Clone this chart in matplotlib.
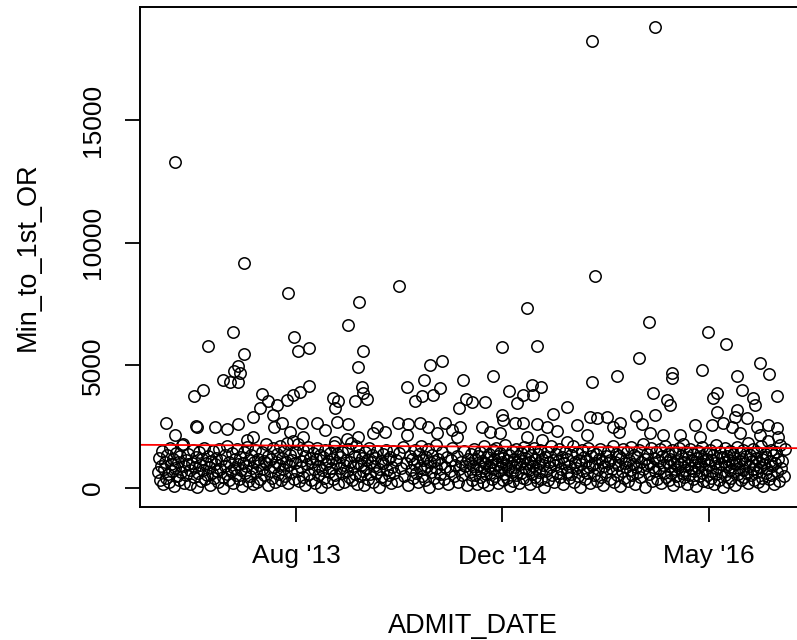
import numpy as np
import matplotlib
matplotlib.use("Agg")
import matplotlib.pyplot as plt

# admit dates are stored as days after this date
start_date = np.datetime64("2012-07-01")

# scattered points above the dense band
upper_day = [100, 1116, 1270, 268, 1123, 375, 646, 548, 958, 1255,
             521, 241, 1399, 1443, 390, 180, 558, 400, 426, 897,
             982, 1231, 268, 253, 244, 258, 217, 234, 253, 168,
             146, 78, 151, 153, 197, 227, 253, 100, 119, 275,
             546, 312, 327, 348, 307, 290, 373, 387, 405, 426,
             485, 497, 490, 539, 339, 361, 341, 409, 446, 465,
             495, 521, 290, 380, 412, 490, 519, 546, 556, 558,
             568, 721, 751, 707, 665, 746, 729, 702, 685, 802,
             809, 792, 592, 582, 612, 643, 668, 665, 697, 716,
             738, 758, 775, 794, 787, 875, 914, 970, 992, 948,
             933, 972, 855, 824, 1055, 1021, 897, 899, 928, 948,
             982, 1006, 1031, 1080, 848, 868, 892, 958, 994, 1055,
             1177, 1116, 1311, 1311, 1265, 1299, 1306, 1270, 1223, 1238,
             1111, 1128, 1153, 1167, 1184, 1182, 1104, 1257, 1289, 1331,
             1384, 1470, 1526, 1548, 1567, 1482, 1411, 1421, 1421, 1508,
             1513, 1470, 1465, 1494, 1367, 1409, 1435, 1457, 1518, 1545,
             1567, 1379, 1477, 1526, 1569]
upper_min = [13300, 18240, 18810, 9180, 8650, 7950, 8240, 7590, 7340, 6770,
             6650, 6360, 6360, 5880, 6160, 5790, 5590, 5590, 5710, 5750,
             5790, 5300, 5470, 4980, 4770, 4690, 4410, 4320, 4320, 4000,
             3750, 2650, 2530, 2500, 2490, 2410, 2610, 2160, 1800, 1960,
             4940, 3835, 3550, 3390, 3260, 2900, 3590, 3790, 3920, 4160,
             3670, 3550, 3260, 3550, 2980, 2650, 2490, 2650, 2650, 2370,
             2690, 2610, 2080, 2280, 2080, 1880, 2000, 2080, 4120, 3880,
             3630, 5020, 5180, 4410, 4120, 4080, 3790, 3750, 3550, 4410,
             3630, 3260, 2490, 2240, 2280, 2650, 2610, 2160, 2650, 2490,
             2240, 2650, 2370, 2490, 2080, 4570, 3960, 4200, 4120, 3790,
             3470, 3790, 3510, 3510, 3300, 3020, 2980, 2770, 2650, 2650,
             2610, 2490, 2330, 2570, 2490, 2280, 2240, 2080, 1960, 1880,
             4570, 4320, 4690, 4490, 3880, 3590, 3390, 2980, 2940, 2610,
             2900, 2860, 2900, 2490, 2650, 2280, 2160, 2240, 2160, 2160,
             4810, 4570, 5100, 4650, 3750, 4000, 3670, 3880, 3100, 3670,
             3390, 3180, 2900, 2860, 2570, 2570, 2650, 2490, 2490, 2570,
             2450, 2080, 2240, 2160, 2080]

# the dense band of ordinary cases
band_day = [58, 61, 63, 66, 68, 71, 73, 76, 78, 81,
            83, 86, 88, 91, 93, 96, 98, 101, 103, 106,
            108, 111, 113, 116, 118, 121, 123, 126, 128, 131,
            133, 136, 138, 141, 143, 146, 148, 151, 153, 156,
            158, 161, 163, 166, 168, 171, 173, 176, 178, 181,
            183, 186, 188, 191, 193, 196, 198, 201, 203, 206,
            208, 211, 213, 216, 218, 221, 223, 226, 228, 231,
            233, 236, 238, 241, 243, 246, 248, 251, 253, 256,
            258, 261, 263, 266, 268, 271, 273, 276, 278, 281,
            283, 286, 288, 291, 293, 296, 298, 301, 303, 306,
            308, 311, 313, 316, 318, 321, 323, 326, 328, 331,
            333, 336, 338, 341, 343, 346, 348, 351, 353, 356,
            358, 361, 363, 366, 368, 371, 373, 376, 378, 381,
            383, 386, 388, 391, 393, 396, 398, 401, 403, 406,
            408, 411, 413, 416, 418, 421, 423, 426, 428, 431,
            433, 436, 438, 441, 443, 446, 448, 451, 453, 456,
            458, 461, 463, 466, 468, 471, 473, 476, 478, 481,
            483, 486, 488, 491, 493, 496, 498, 501, 503, 506,
            508, 511, 513, 516, 518, 521, 523, 526, 528, 531,
            533, 536, 538, 541, 543, 546, 548, 551, 553, 556,
            558, 561, 563, 566, 568, 571, 573, 576, 578, 581,
            583, 586, 588, 591, 593, 596, 598, 601, 603, 606,
            608, 611, 613, 616, 618, 621, 623, 626, 628, 631,
            634, 638, 642, 646, 651, 655, 659, 664, 668, 672,
            675, 677, 680, 682, 685, 687, 690, 692, 695, 697,
            700, 702, 705, 707, 710, 712, 715, 717, 720, 722,
            725, 727, 730, 732, 735, 737, 740, 742, 745, 748,
            751, 755, 758, 762, 765, 769, 772, 776, 779, 783,
            786, 790, 793, 797, 800, 804, 807, 811, 814, 818,
            820, 822, 824, 826, 828, 830, 832, 834, 836, 838,
            840, 842, 844, 846, 848, 850, 852, 854, 856, 858,
            860, 862, 864, 866, 868, 870, 872, 874, 876, 878,
            880, 882, 884, 886, 888, 890, 892, 894, 896, 898,
            900, 902, 904, 906, 908, 910, 912, 914, 916, 918,
            920, 922, 924, 926, 928, 930, 932, 934, 936, 938,
            940, 942, 944, 946, 948, 950, 952, 954, 956, 958,
            960, 962, 964, 966, 968, 970, 972, 974, 976, 978,
            980, 982, 984, 986, 988, 990, 992, 994, 996, 998,
            1001, 1004, 1006, 1009, 1011, 1014, 1016, 1019, 1021, 1024,
            1026, 1029, 1031, 1034, 1036, 1039, 1041, 1044, 1046, 1049,
            1051, 1054, 1056, 1059, 1061, 1064, 1066, 1069, 1071, 1074,
            1076, 1079, 1081, 1084, 1086, 1089, 1091, 1094, 1096, 1099,
            1101, 1104, 1106, 1109, 1111, 1114, 1116, 1119, 1121, 1124,
            1126, 1129, 1131, 1134, 1136, 1139, 1141, 1144, 1146, 1149,
            1151, 1154, 1156, 1159, 1161, 1164, 1166, 1169, 1171, 1174,
            1176, 1179, 1181, 1184, 1186, 1189, 1191, 1194, 1196, 1199,
            1201, 1204, 1206, 1209, 1211, 1214, 1216, 1219, 1221, 1224,
            1226, 1229, 1231, 1234, 1236, 1239, 1241, 1244, 1246, 1249,
            1251, 1254, 1256, 1259, 1261, 1264, 1266, 1269, 1271, 1274,
            1276, 1279, 1281, 1284, 1286, 1289, 1291, 1294, 1296, 1299,
            1301, 1303, 1305, 1307, 1309, 1311, 1313, 1315, 1317, 1319,
            1321, 1323, 1325, 1327, 1329, 1331, 1333, 1335, 1337, 1339,
            1341, 1343, 1345, 1347, 1349, 1351, 1353, 1355, 1357, 1359,
            1361, 1363, 1365, 1367, 1369, 1371, 1373, 1375, 1377, 1379,
            1381, 1383, 1385, 1387, 1389, 1391, 1393, 1395, 1397, 1399,
            1401, 1403, 1405, 1407, 1409, 1411, 1413, 1415, 1417, 1419,
            1421, 1423, 1425, 1427, 1429, 1431, 1433, 1435, 1437, 1439,
            1441, 1443, 1445, 1447, 1449, 1451, 1453, 1455, 1457, 1459,
            1461, 1463, 1465, 1467, 1469, 1471, 1473, 1475, 1477, 1479,
            1481, 1483, 1485, 1487, 1489, 1491, 1493, 1495, 1497, 1499,
            1501, 1503, 1505, 1507, 1509, 1511, 1513, 1515, 1517, 1519,
            1521, 1523, 1525, 1527, 1529, 1531, 1533, 1535, 1537, 1539,
            1541, 1543, 1545, 1547, 1549, 1551, 1553, 1555, 1557, 1559,
            1562, 1565, 1567, 1570, 1572, 1575, 1577, 1580, 1583, 1586]
band_min = [640, 1210, 330, 900, 1490, 180, 760, 1080, 420, 1350,
            560, 240, 1630, 980, 700, 1170, 90, 820, 1420, 470,
            1060, 310, 1290, 650, 1740, 880, 200, 1130, 540, 960,
            1380, 720, 150, 1000, 1560, 430, 860, 1250, 60, 610,
            1450, 930, 280, 1190, 750, 1640, 370, 1020, 520, 1310,
            840, 130, 1100, 610, 1520, 390, 970, 1230, 690, 240,
            1600, 780, 1150, 460, 20, 1340, 900, 560, 1700, 320,
            1050, 680, 1410, 190, 830, 1190, 510, 1580, 960, 380,
            1270, 720, 80, 1010, 1480, 600, 880, 1690, 300, 1130,
            470, 1360, 810, 160, 1040, 1550, 660, 230, 1200, 940,
            350, 1470, 760, 1110, 550, 1780, 1000, 140, 1310, 690,
            1180, 420, 1620, 870, 260, 1050, 1390, 590, 940, 1720,
            310, 1240, 770, 1500, 480, 1080, 1850, 200, 930, 1330,
            640, 1160, 1900, 380, 1010, 1460, 710, 1780, 270, 1120,
            860, 1560, 450, 1290, 130, 980, 1680, 590, 1220, 340,
            1040, 1430, 760, 210, 1170, 1620, 530, 890, 1350, 60,
            720, 1260, 410, 1540, 980, 260, 1110, 660, 1440, 830,
            1190, 370, 1700, 540, 1000, 1380, 170, 800, 1250, 620,
            1470, 930, 250, 1130, 700, 1600, 440, 1060, 1820, 320,
            880, 1290, 580, 1730, 150, 1010, 1360, 470, 950, 1240,
            690, 110, 1450, 820, 1150, 380, 1640, 560, 1070, 1330,
            240, 900, 1210, 620, 1510, 40, 780, 1100, 460, 1380,
            1000, 330, 1560, 720, 1180, 550, 1270, 190, 860, 1490,
            610, 1130, 270, 1420, 820, 1660, 470, 1020, 130, 1310,
            740, 1200, 390, 960, 1530, 610, 1090, 240, 1380, 820,
            1700, 500, 1150, 760, 320, 1280, 910, 1590, 60, 1040,
            640, 1340, 420, 1090, 1750, 830, 210, 1200, 560, 990,
            1450, 380, 870, 1260, 150, 700, 1130, 1620, 470, 930,
            1320, 260, 780, 1070, 520, 1500, 890, 120, 1180, 640,
            1030, 1400, 340, 880, 1610, 520, 1190, 760, 180, 1310,
            930, 450, 1480, 690, 1120, 260, 1700, 830, 1020, 580,
            1260, 140, 910, 1390, 620, 1080, 350, 1540, 760, 1170,
            480, 1650, 990, 220, 1300, 710, 1440, 850, 1060, 310,
            1220, 590, 1760, 940, 400, 1130, 770, 1350, 80, 1000,
            660, 1490, 300, 1180, 870, 1580, 520, 1050, 1300, 190,
            960, 1410, 620, 1120, 420, 1690, 800, 1240, 350, 1030,
            1500, 730, 160, 1080, 1330, 560, 900, 1620, 450, 1170,
            820, 280, 1390, 1010, 640, 1550, 380, 1200, 920, 60,
            1260, 700, 1460, 330, 1040, 850, 1700, 520, 1150, 240,
            940, 1380, 610, 1090, 1600, 430, 780, 1250, 170, 1010,
            1480, 660, 1190, 390, 900, 1340, 560, 1730, 260, 1070,
            820, 1420, 470, 1150, 40, 980, 1560, 700, 1280, 350,
            1090, 610, 1650, 850, 200, 1310, 920, 1480, 530, 1000,
            1370, 280, 760, 1200, 1590, 460, 1050, 140, 880, 1290,
            640, 1510, 1000, 370, 1160, 790, 1700, 230, 1080, 1400,
            530, 950, 1320, 80, 1220, 680, 1580, 410, 1030, 840,
            1460, 300, 1140, 720, 1690, 520, 990, 1350, 180, 860,
            1250, 640, 1530, 430, 1060, 1800, 770, 1180, 50, 940,
            1390, 560, 1010, 1640, 290, 850, 1230, 690, 1470, 380,
            1100, 780, 1580, 210, 1300, 940, 600, 1720, 450, 1050,
            1370, 330, 890, 1200, 620, 1540, 140, 1010, 760, 1430,
            480, 1120, 860, 1650, 270, 990, 1310, 600, 1780, 430,
            1060, 730, 1450, 180, 920, 1260, 540, 1590, 810, 1150,
            360, 1380, 690, 1040, 90, 1220, 870, 1500, 470, 980,
            1290, 610, 1670, 300, 1090, 780, 1410, 520, 1180, 230,
            940, 1560, 420, 1130, 700, 1350, 160, 1010, 1740, 580,
            1210, 850, 330, 1470, 960, 640, 1280, 40, 1080, 1620,
            510, 900, 1320, 250, 1150, 730, 1510, 400, 1000, 1380,
            680, 1240, 140, 960, 1660, 560, 1090, 820, 1430, 310,
            1170, 740, 1550, 450, 1010, 1300, 620, 1830, 200, 890,
            1360, 530, 1120, 780, 1600, 330, 950, 1240, 660, 1480,
            260, 1050, 840, 1700, 420, 1180, 90, 990, 1400, 610,
            1270, 760, 1930, 350, 1090, 1560, 540, 880, 1330, 180,
            1010, 1460, 650, 1200, 300, 1750, 830, 1120, 470, 1580]

# red trend line: value at the left and right edge of the plot
trend_min = [1760, 1620]
x_range_days = [15, 1647]

tick_dates = ["2013-08-01", "2014-12-15", "2016-05-01"]
tick_labels = ["Aug '13", "Dec '14", "May '16"]
y_ticks = [0, 5000, 10000, 15000]

plt.rcParams["font.family"] = ["Liberation Sans", "DejaVu Sans"]

days = np.array(upper_day + band_day)
mins = np.array(upper_min + band_min)
dates = start_date + days.astype("timedelta64[D]")
xlim = start_date + np.array(x_range_days).astype("timedelta64[D]")

fig = plt.figure(figsize=(7.97, 6.40), dpi=100)
ax = fig.add_axes([140 / 797, 133 / 640, 670 / 797, 500 / 640])

ax.plot(dates, mins, linestyle="none", marker="o", markersize=8.2,
        markerfacecolor="none", markeredgecolor="black", markeredgewidth=1.1)
ax.plot(xlim, trend_min, color="red", linewidth=1.3)

ax.set_xlim(xlim[0], xlim[1])
ax.set_ylim(-775, 19610)
ax.set_xticks(np.array(tick_dates, dtype="datetime64[D]"))
ax.set_xticklabels(tick_labels)
ax.set_yticks(y_ticks)
ax.set_yticklabels([str(v) for v in y_ticks], rotation=90, va="center")

for side in ax.spines.values():
    side.set_linewidth(1.4)
    side.set_color("black")
ax.tick_params(axis="both", length=11, width=1.3, colors="black",
               labelsize=19)
ax.tick_params(axis="x", pad=16)
ax.tick_params(axis="y", pad=14)

fig.text(473 / 797, 1 - 626 / 640, "ADMIT_DATE", ha="center", va="center",
         fontsize=19.5)
fig.text(28 / 797, 1 - 257 / 640, "Min_to_1st_OR", ha="center", va="center",
         rotation=90, fontsize=19.5)

fig.savefig("out.png", dpi=100)
